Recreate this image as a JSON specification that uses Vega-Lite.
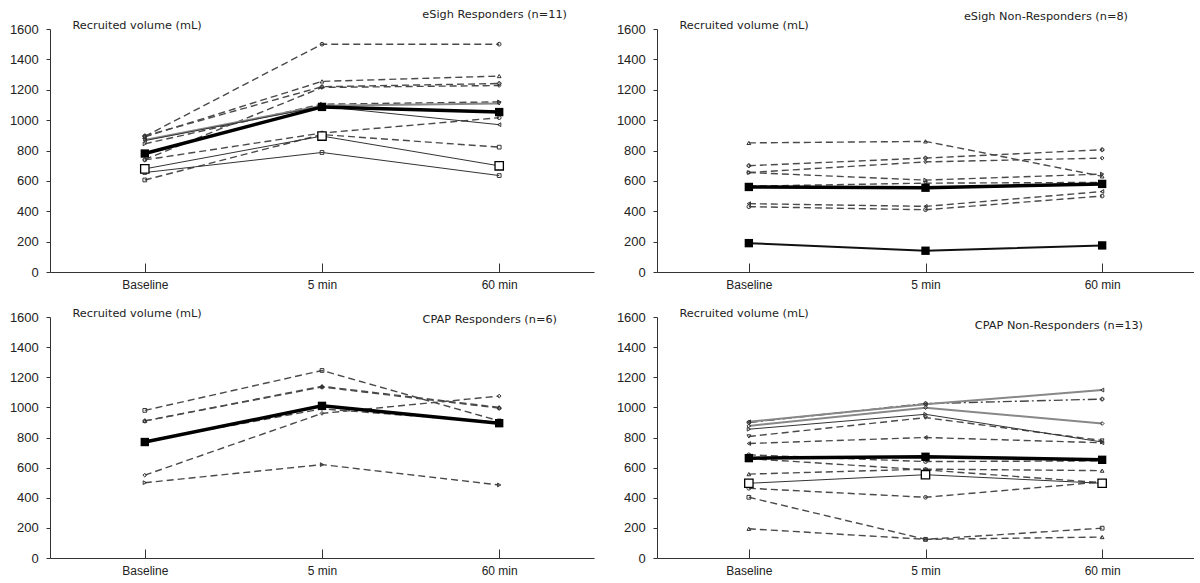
{
"$schema":"https://vega.github.io/schema/vega-lite/v6.json",
"padding":{"left":9,"top":9,"right":0,"bottom":0},
"background":"white",
"data":{"values":[
{"p":"A","id":"a1","kind":"dashed","t":"Baseline","v":893},{"p":"A","id":"a1","kind":"dashed","t":"5 min","v":1500},{"p":"A","id":"a1","kind":"dashed","t":"60 min","v":1500},
{"p":"A","id":"a2","kind":"dashed","t":"Baseline","v":890},{"p":"A","id":"a2","kind":"dashed","t":"5 min","v":1255},{"p":"A","id":"a2","kind":"dashed","t":"60 min","v":1290},
{"p":"A","id":"a3","kind":"dashed","t":"Baseline","v":896},{"p":"A","id":"a3","kind":"dashed","t":"5 min","v":1220},{"p":"A","id":"a3","kind":"dashed","t":"60 min","v":1241},
{"p":"A","id":"a4","kind":"dashed","t":"Baseline","v":740},{"p":"A","id":"a4","kind":"dashed","t":"5 min","v":1215},{"p":"A","id":"a4","kind":"dashed","t":"60 min","v":1228},
{"p":"A","id":"a5","kind":"dashed","t":"Baseline","v":844},{"p":"A","id":"a5","kind":"dashed","t":"5 min","v":1105},{"p":"A","id":"a5","kind":"dashed","t":"60 min","v":1120},
{"p":"A","id":"a6","kind":"gray","t":"Baseline","v":870},{"p":"A","id":"a6","kind":"gray","t":"5 min","v":1095},{"p":"A","id":"a6","kind":"gray","t":"60 min","v":1110},
{"p":"A","id":"a7","kind":"solid","t":"Baseline","v":865},{"p":"A","id":"a7","kind":"solid","t":"5 min","v":1090},{"p":"A","id":"a7","kind":"solid","t":"60 min","v":970},
{"p":"A","id":"a8","kind":"dashed","t":"Baseline","v":738},{"p":"A","id":"a8","kind":"dashed","t":"5 min","v":915},{"p":"A","id":"a8","kind":"dashed","t":"60 min","v":1016},
{"p":"A","id":"a9","kind":"dashed","t":"Baseline","v":606},{"p":"A","id":"a9","kind":"dashed","t":"5 min","v":905},{"p":"A","id":"a9","kind":"dashed","t":"60 min","v":822},
{"p":"A","id":"a10","kind":"open","t":"Baseline","v":679},{"p":"A","id":"a10","kind":"open","t":"5 min","v":895},{"p":"A","id":"a10","kind":"open","t":"60 min","v":699},
{"p":"A","id":"a11","kind":"solid","t":"Baseline","v":655},{"p":"A","id":"a11","kind":"solid","t":"5 min","v":787},{"p":"A","id":"a11","kind":"solid","t":"60 min","v":635},
{"p":"A","id":"am","kind":"mean","t":"Baseline","v":780},{"p":"A","id":"am","kind":"mean","t":"5 min","v":1087},{"p":"A","id":"am","kind":"mean","t":"60 min","v":1053},
{"p":"B","id":"b1","kind":"dashed","t":"Baseline","v":850},{"p":"B","id":"b1","kind":"dashed","t":"5 min","v":860},{"p":"B","id":"b1","kind":"dashed","t":"60 min","v":630},
{"p":"B","id":"b2","kind":"dashed","t":"Baseline","v":700},{"p":"B","id":"b2","kind":"dashed","t":"5 min","v":750},{"p":"B","id":"b2","kind":"dashed","t":"60 min","v":805},
{"p":"B","id":"b3","kind":"dashed","t":"Baseline","v":655},{"p":"B","id":"b3","kind":"dashed","t":"5 min","v":725},{"p":"B","id":"b3","kind":"dashed","t":"60 min","v":750},
{"p":"B","id":"b4","kind":"dashed","t":"Baseline","v":655},{"p":"B","id":"b4","kind":"dashed","t":"5 min","v":605},{"p":"B","id":"b4","kind":"dashed","t":"60 min","v":645},
{"p":"B","id":"b5","kind":"dashed","t":"Baseline","v":565},{"p":"B","id":"b5","kind":"dashed","t":"5 min","v":585},{"p":"B","id":"b5","kind":"dashed","t":"60 min","v":590},
{"p":"B","id":"b6","kind":"dashed","t":"Baseline","v":450},{"p":"B","id":"b6","kind":"dashed","t":"5 min","v":432},{"p":"B","id":"b6","kind":"dashed","t":"60 min","v":530},
{"p":"B","id":"b7","kind":"dashed","t":"Baseline","v":430},{"p":"B","id":"b7","kind":"dashed","t":"5 min","v":410},{"p":"B","id":"b7","kind":"dashed","t":"60 min","v":500},
{"p":"B","id":"b8","kind":"solidfill","t":"Baseline","v":190},{"p":"B","id":"b8","kind":"solidfill","t":"5 min","v":140},{"p":"B","id":"b8","kind":"solidfill","t":"60 min","v":175},
{"p":"B","id":"bm","kind":"mean","t":"Baseline","v":560},{"p":"B","id":"bm","kind":"mean","t":"5 min","v":555},{"p":"B","id":"bm","kind":"mean","t":"60 min","v":580},
{"p":"C","id":"c1","kind":"dashed","t":"Baseline","v":980},{"p":"C","id":"c1","kind":"dashed","t":"5 min","v":1245},{"p":"C","id":"c1","kind":"dashed","t":"60 min","v":910},
{"p":"C","id":"c2","kind":"dashed","t":"Baseline","v":910},{"p":"C","id":"c2","kind":"dashed","t":"5 min","v":1140},{"p":"C","id":"c2","kind":"dashed","t":"60 min","v":1000},
{"p":"C","id":"c3","kind":"dashed","t":"Baseline","v":910},{"p":"C","id":"c3","kind":"dashed","t":"5 min","v":1135},{"p":"C","id":"c3","kind":"dashed","t":"60 min","v":995},
{"p":"C","id":"c4","kind":"dashed","t":"Baseline","v":550},{"p":"C","id":"c4","kind":"dashed","t":"5 min","v":960},{"p":"C","id":"c4","kind":"dashed","t":"60 min","v":1075},
{"p":"C","id":"c5","kind":"dashed","t":"Baseline","v":500},{"p":"C","id":"c5","kind":"dashed","t":"5 min","v":620},{"p":"C","id":"c5","kind":"dashed","t":"60 min","v":485},
{"p":"C","id":"c6","kind":"dashed","t":"Baseline","v":775},{"p":"C","id":"c6","kind":"dashed","t":"5 min","v":990},{"p":"C","id":"c6","kind":"dashed","t":"60 min","v":900},
{"p":"C","id":"cm","kind":"mean","t":"Baseline","v":770},{"p":"C","id":"cm","kind":"mean","t":"5 min","v":1010},{"p":"C","id":"cm","kind":"mean","t":"60 min","v":895},
{"p":"D","id":"d1","kind":"gray","t":"Baseline","v":904},{"p":"D","id":"d1","kind":"gray","t":"5 min","v":1020},{"p":"D","id":"d1","kind":"gray","t":"60 min","v":1115},
{"p":"D","id":"d2","kind":"dashdot","t":"Baseline","v":900},{"p":"D","id":"d2","kind":"dashdot","t":"5 min","v":1025},{"p":"D","id":"d2","kind":"dashdot","t":"60 min","v":1055},
{"p":"D","id":"d3","kind":"gray","t":"Baseline","v":877},{"p":"D","id":"d3","kind":"gray","t":"5 min","v":998},{"p":"D","id":"d3","kind":"gray","t":"60 min","v":893},
{"p":"D","id":"d4","kind":"solid","t":"Baseline","v":855},{"p":"D","id":"d4","kind":"solid","t":"5 min","v":954},{"p":"D","id":"d4","kind":"solid","t":"60 min","v":770},
{"p":"D","id":"d5","kind":"dashed","t":"Baseline","v":807},{"p":"D","id":"d5","kind":"dashed","t":"5 min","v":932},{"p":"D","id":"d5","kind":"dashed","t":"60 min","v":780},
{"p":"D","id":"d6","kind":"dashed","t":"Baseline","v":760},{"p":"D","id":"d6","kind":"dashed","t":"5 min","v":800},{"p":"D","id":"d6","kind":"dashed","t":"60 min","v":765},
{"p":"D","id":"d7","kind":"dashed","t":"Baseline","v":685},{"p":"D","id":"d7","kind":"dashed","t":"5 min","v":640},{"p":"D","id":"d7","kind":"dashed","t":"60 min","v":645},
{"p":"D","id":"d8","kind":"dashed","t":"Baseline","v":660},{"p":"D","id":"d8","kind":"dashed","t":"5 min","v":585},{"p":"D","id":"d8","kind":"dashed","t":"60 min","v":500},
{"p":"D","id":"d9","kind":"dashed","t":"Baseline","v":557},{"p":"D","id":"d9","kind":"dashed","t":"5 min","v":590},{"p":"D","id":"d9","kind":"dashed","t":"60 min","v":580},
{"p":"D","id":"d10","kind":"open","t":"Baseline","v":496},{"p":"D","id":"d10","kind":"open","t":"5 min","v":553},{"p":"D","id":"d10","kind":"open","t":"60 min","v":496},
{"p":"D","id":"d11","kind":"dashed","t":"Baseline","v":463},{"p":"D","id":"d11","kind":"dashed","t":"5 min","v":403},{"p":"D","id":"d11","kind":"dashed","t":"60 min","v":505},
{"p":"D","id":"d12","kind":"dashed","t":"Baseline","v":403},{"p":"D","id":"d12","kind":"dashed","t":"5 min","v":124},{"p":"D","id":"d12","kind":"dashed","t":"60 min","v":198},
{"p":"D","id":"d13","kind":"dashed","t":"Baseline","v":194},{"p":"D","id":"d13","kind":"dashed","t":"5 min","v":124},{"p":"D","id":"d13","kind":"dashed","t":"60 min","v":139},
{"p":"D","id":"dm","kind":"mean","t":"Baseline","v":663},{"p":"D","id":"dm","kind":"mean","t":"5 min","v":672},{"p":"D","id":"dm","kind":"mean","t":"60 min","v":652}
]},
"config":{
"view":{"stroke":null},
"axis":{"grid":false,"domainColor":"#333","tickColor":"#333","labelColor":"#222","labelFont":"Liberation Sans","titleFont":"DejaVu Sans","titleFontWeight":"normal","titleFontSize":11.3,"titleColor":"#222"},
"axisY":{"labelFontSize":13,"labelPadding":7.7,"tickSize":4},
"axisX":{"labelFontSize":12,"labelPadding":16,"labelAngle":0,"tickSize":-9},
"title":{"font":"DejaVu Sans","fontSize":11.3,"fontWeight":"normal","color":"#222","anchor":"end","frame":"group"},
"concat":{"spacing":22}
},
"vconcat":[
{"hconcat":[
{"width":544,"height":243,
"title":{"text":"eSigh Responders (n=11)","dx":-27,"offset":-0.8},
"transform":[{"filter":"datum.p==='A'"}],
"encoding":{
"x":{"field":"t","type":"ordinal","title":null,"scale":{"type":"point","domain":["Baseline","5 min","60 min"],"padding":0.535}},
"y":{"field":"v","type":"quantitative","scale":{"domain":[0,1600],"nice":false},"axis":{"format":"d","values":[0,200,400,600,800,1000,1200,1400,1600],"title":"Recruited volume (mL)","titleAngle":0,"titleAlign":"left","titleBaseline":"middle","titleX":22,"titleY":-3.5}}},
"layer":[
{"transform":[{"filter":"datum.kind==='dashed'"}],"mark":{"type":"line","strokeDash":[7,4],"color":"#4a4a4a","strokeWidth":1.4},"encoding":{"detail":{"field":"id"}}},
{"transform":[{"filter":"datum.kind==='dashdot'"}],"mark":{"type":"line","strokeDash":[9,3,2,3],"color":"#444","strokeWidth":1.4},"encoding":{"detail":{"field":"id"}}},
{"transform":[{"filter":"datum.kind==='gray'"}],"mark":{"type":"line","color":"#888","strokeWidth":2},"encoding":{"detail":{"field":"id"}}},
{"transform":[{"filter":"datum.kind==='solid' || datum.kind==='open'"}],"mark":{"type":"line","color":"#333","strokeWidth":1},"encoding":{"detail":{"field":"id"}}},
{"transform":[{"filter":"datum.kind==='solidfill'"}],"mark":{"type":"line","color":"#111","strokeWidth":2},"encoding":{"detail":{"field":"id"}}},
{"transform":[{"filter":"datum.kind==='mean'"}],"mark":{"type":"line","color":"#000","strokeWidth":3.5},"encoding":{"detail":{"field":"id"}}},
{"transform":[{"filter":"datum.kind==='dashed' || datum.kind==='dashdot' || datum.kind==='gray' || datum.kind==='solid'"}],"mark":{"type":"point","size":14,"color":"#333","strokeWidth":1,"filled":false,"opacity":1},"encoding":{"shape":{"field":"id","legend":null}}},
{"transform":[{"filter":"datum.kind==='open'"}],"mark":{"type":"square","size":70,"fill":"#fff","stroke":"#000","strokeWidth":1.3,"opacity":1}},
{"transform":[{"filter":"datum.kind==='mean' || datum.kind==='solidfill'"}],"mark":{"type":"square","size":70,"color":"#000","opacity":1}}
]},
{"width":537,"height":243,
"title":{"text":"eSigh Non-Responders (n=8)","dx":-66,"offset":-2.8},
"transform":[{"filter":"datum.p==='B'"}],
"encoding":{
"x":{"field":"t","type":"ordinal","title":null,"scale":{"type":"point","domain":["Baseline","5 min","60 min"],"padding":0.52}},
"y":{"field":"v","type":"quantitative","scale":{"domain":[0,1600],"nice":false},"axis":{"format":"d","values":[0,200,400,600,800,1000,1200,1400,1600],"title":"Recruited volume (mL)","titleAngle":0,"titleAlign":"left","titleBaseline":"middle","titleX":22,"titleY":-3.5}}},
"layer":[
{"transform":[{"filter":"datum.kind==='dashed'"}],"mark":{"type":"line","strokeDash":[7,4],"color":"#4a4a4a","strokeWidth":1.4},"encoding":{"detail":{"field":"id"}}},
{"transform":[{"filter":"datum.kind==='dashdot'"}],"mark":{"type":"line","strokeDash":[9,3,2,3],"color":"#444","strokeWidth":1.4},"encoding":{"detail":{"field":"id"}}},
{"transform":[{"filter":"datum.kind==='gray'"}],"mark":{"type":"line","color":"#888","strokeWidth":2},"encoding":{"detail":{"field":"id"}}},
{"transform":[{"filter":"datum.kind==='solid' || datum.kind==='open'"}],"mark":{"type":"line","color":"#333","strokeWidth":1},"encoding":{"detail":{"field":"id"}}},
{"transform":[{"filter":"datum.kind==='solidfill'"}],"mark":{"type":"line","color":"#111","strokeWidth":2},"encoding":{"detail":{"field":"id"}}},
{"transform":[{"filter":"datum.kind==='mean'"}],"mark":{"type":"line","color":"#000","strokeWidth":3.5},"encoding":{"detail":{"field":"id"}}},
{"transform":[{"filter":"datum.kind==='dashed' || datum.kind==='dashdot' || datum.kind==='gray' || datum.kind==='solid'"}],"mark":{"type":"point","size":14,"color":"#333","strokeWidth":1,"filled":false,"opacity":1},"encoding":{"shape":{"field":"id","legend":null}}},
{"transform":[{"filter":"datum.kind==='open'"}],"mark":{"type":"square","size":70,"fill":"#fff","stroke":"#000","strokeWidth":1.3,"opacity":1}},
{"transform":[{"filter":"datum.kind==='mean' || datum.kind==='solidfill'"}],"mark":{"type":"square","size":70,"color":"#000","opacity":1}}
]}
]},
{"hconcat":[
{"width":544,"height":241,
"title":{"text":"CPAP Responders (n=6)","dx":-37,"offset":-18.1},
"transform":[{"filter":"datum.p==='C'"}],
"encoding":{
"x":{"field":"t","type":"ordinal","title":null,"scale":{"type":"point","domain":["Baseline","5 min","60 min"],"padding":0.535}},
"y":{"field":"v","type":"quantitative","scale":{"domain":[0,1600],"nice":false},"axis":{"format":"d","values":[0,200,400,600,800,1000,1200,1400,1600],"title":"Recruited volume (mL)","titleAngle":0,"titleAlign":"left","titleBaseline":"middle","titleX":22,"titleY":-3.5}}},
"layer":[
{"transform":[{"filter":"datum.kind==='dashed'"}],"mark":{"type":"line","strokeDash":[7,4],"color":"#4a4a4a","strokeWidth":1.4},"encoding":{"detail":{"field":"id"}}},
{"transform":[{"filter":"datum.kind==='dashdot'"}],"mark":{"type":"line","strokeDash":[9,3,2,3],"color":"#444","strokeWidth":1.4},"encoding":{"detail":{"field":"id"}}},
{"transform":[{"filter":"datum.kind==='gray'"}],"mark":{"type":"line","color":"#888","strokeWidth":2},"encoding":{"detail":{"field":"id"}}},
{"transform":[{"filter":"datum.kind==='solid' || datum.kind==='open'"}],"mark":{"type":"line","color":"#333","strokeWidth":1},"encoding":{"detail":{"field":"id"}}},
{"transform":[{"filter":"datum.kind==='solidfill'"}],"mark":{"type":"line","color":"#111","strokeWidth":2},"encoding":{"detail":{"field":"id"}}},
{"transform":[{"filter":"datum.kind==='mean'"}],"mark":{"type":"line","color":"#000","strokeWidth":3.5},"encoding":{"detail":{"field":"id"}}},
{"transform":[{"filter":"datum.kind==='dashed' || datum.kind==='dashdot' || datum.kind==='gray' || datum.kind==='solid'"}],"mark":{"type":"point","size":14,"color":"#333","strokeWidth":1,"filled":false,"opacity":1},"encoding":{"shape":{"field":"id","legend":null}}},
{"transform":[{"filter":"datum.kind==='open'"}],"mark":{"type":"square","size":70,"fill":"#fff","stroke":"#000","strokeWidth":1.3,"opacity":1}},
{"transform":[{"filter":"datum.kind==='mean' || datum.kind==='solidfill'"}],"mark":{"type":"square","size":70,"color":"#000","opacity":1}}
]},
{"width":537,"height":241,
"title":{"text":"CPAP Non-Responders (n=13)","dx":-51,"offset":-23.5},
"transform":[{"filter":"datum.p==='D'"}],
"encoding":{
"x":{"field":"t","type":"ordinal","title":null,"scale":{"type":"point","domain":["Baseline","5 min","60 min"],"padding":0.52}},
"y":{"field":"v","type":"quantitative","scale":{"domain":[0,1600],"nice":false},"axis":{"format":"d","values":[0,200,400,600,800,1000,1200,1400,1600],"title":"Recruited volume (mL)","titleAngle":0,"titleAlign":"left","titleBaseline":"middle","titleX":22,"titleY":-3.5}}},
"layer":[
{"transform":[{"filter":"datum.kind==='dashed'"}],"mark":{"type":"line","strokeDash":[7,4],"color":"#4a4a4a","strokeWidth":1.4},"encoding":{"detail":{"field":"id"}}},
{"transform":[{"filter":"datum.kind==='dashdot'"}],"mark":{"type":"line","strokeDash":[9,3,2,3],"color":"#444","strokeWidth":1.4},"encoding":{"detail":{"field":"id"}}},
{"transform":[{"filter":"datum.kind==='gray'"}],"mark":{"type":"line","color":"#888","strokeWidth":2},"encoding":{"detail":{"field":"id"}}},
{"transform":[{"filter":"datum.kind==='solid' || datum.kind==='open'"}],"mark":{"type":"line","color":"#333","strokeWidth":1},"encoding":{"detail":{"field":"id"}}},
{"transform":[{"filter":"datum.kind==='solidfill'"}],"mark":{"type":"line","color":"#111","strokeWidth":2},"encoding":{"detail":{"field":"id"}}},
{"transform":[{"filter":"datum.kind==='mean'"}],"mark":{"type":"line","color":"#000","strokeWidth":3.5},"encoding":{"detail":{"field":"id"}}},
{"transform":[{"filter":"datum.kind==='dashed' || datum.kind==='dashdot' || datum.kind==='gray' || datum.kind==='solid'"}],"mark":{"type":"point","size":14,"color":"#333","strokeWidth":1,"filled":false,"opacity":1},"encoding":{"shape":{"field":"id","legend":null}}},
{"transform":[{"filter":"datum.kind==='open'"}],"mark":{"type":"square","size":70,"fill":"#fff","stroke":"#000","strokeWidth":1.3,"opacity":1}},
{"transform":[{"filter":"datum.kind==='mean' || datum.kind==='solidfill'"}],"mark":{"type":"square","size":70,"color":"#000","opacity":1}}
]}
]}
],
"spacing":17
}
